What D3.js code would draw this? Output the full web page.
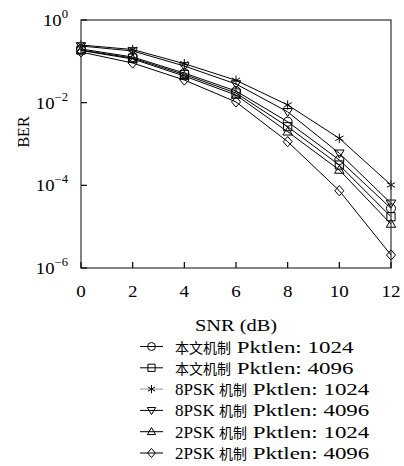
<!DOCTYPE html>
<html><head><meta charset="utf-8">
<script src="https://cdn.jsdelivr.net/npm/d3@7/dist/d3.min.js"></script>
<style>body{margin:0;background:#fff}svg{display:block}</style>
</head><body>
<svg id="c" width="404" height="466"></svg>
<script>
const snr = [0, 2, 4, 6, 8, 10, 12];
const berProp1024 = [0.199, 0.127, 0.052, 0.0191, 0.00346, 0.00041, 2.78e-5];
const berProp4096 = [0.188, 0.120, 0.048, 0.0171, 0.00262, 0.00031, 1.74e-5];
const ber8psk1024 = [0.248, 0.193, 0.0877, 0.0348, 0.0088, 0.00137, 1.02e-4];
const ber8psk4096 = [0.235, 0.178, 0.077, 0.0283, 0.0060, 0.000596, 3.67e-5];
const ber2psk1024 = [0.183, 0.114, 0.044, 0.0153, 0.00198, 0.000235, 1.16e-5];
const ber2psk4096 = [0.168, 0.091, 0.0353, 0.0104, 0.00114, 7.4e-5, 2.06e-6];
const xTicks = [0, 2, 4, 6, 8, 10, 12];
const yTickExps = [0, -2, -4, -6];
const seriesNames = [
  ["本文机制", " Pktlen: 1024"],
  ["本文机制", " Pktlen: 4096"],
  ["8PSK ", "机制", " Pktlen: 1024"],
  ["8PSK ", "机制", " Pktlen: 4096"],
  ["2PSK ", "机制", " Pktlen: 1024"],
  ["2PSK ", "机制", " Pktlen: 4096"]
];
const seriesData = [berProp1024, berProp4096, ber8psk1024, ber8psk4096, ber2psk1024, ber2psk4096];
const markers = ["circle", "square", "star", "tridown", "triup", "diamond"];

const svg = d3.select("#c");
const L = 81, R = 391, T = 20, B = 268;
const x = d3.scaleLinear().domain([0, 12]).range([L, R]);
const y = d3.scaleLog().domain([1e-6, 1]).range([B, T]);
const serif = "Liberation Serif, DejaVu Serif, serif";
const cjk = "Noto Sans CJK SC, sans-serif";

function markerPath(type, s) {
  const p = d3.path();
  if (type === "square") { p.rect(-s, -s, 2 * s, 2 * s); }
  else if (type === "triup") { p.moveTo(0, -s * 1.15); p.lineTo(s * 1.15, s * 0.8); p.lineTo(-s * 1.15, s * 0.8); p.closePath(); }
  else if (type === "tridown") { p.moveTo(0, s * 1.15); p.lineTo(s * 1.15, -s * 0.8); p.lineTo(-s * 1.15, -s * 0.8); p.closePath(); }
  else if (type === "diamond") { p.moveTo(0, -s * 1.25); p.lineTo(s * 1.1, 0); p.lineTo(0, s * 1.25); p.lineTo(-s * 1.1, 0); p.closePath(); }
  else if (type === "star") {
    const r = s * 1.15;
    p.moveTo(0, -r); p.lineTo(0, r);
    for (const a of [30, 150]) { const t = a * Math.PI / 180; p.moveTo(-r * Math.cos(t), -r * Math.sin(t)); p.lineTo(r * Math.cos(t), r * Math.sin(t)); }
  }
  return p.toString();
}
function drawMarker(g, type, cx, cy, s) {
  if (type === "circle") {
    g.append("circle").attr("cx", cx).attr("cy", cy).attr("r", s * 1.1)
      .attr("fill", "none").attr("stroke", "#000").attr("stroke-width", 1);
  } else {
    g.append("path").attr("d", markerPath(type, s)).attr("transform", `translate(${cx},${cy})`)
      .attr("fill", "none").attr("stroke", "#000").attr("stroke-width", 1);
  }
}

// series
const line = d3.line().x((d, i) => x(snr[i])).y(d => y(d));
seriesData.forEach((data, k) => {
  svg.append("path").attr("d", line(data)).attr("fill", "none")
    .attr("stroke", "#000").attr("stroke-width", 1);
  const g = svg.append("g");
  data.forEach((v, i) => drawMarker(g, markers[k], x(snr[i]), y(v), 4.1));
});

// frame
svg.append("rect").attr("x", L).attr("y", T).attr("width", R - L).attr("height", B - T)
  .attr("fill", "none").attr("stroke", "#333").attr("stroke-width", 1.2);

// x ticks
xTicks.forEach(t => {
  svg.append("line").attr("x1", x(t)).attr("x2", x(t)).attr("y1", B).attr("y2", B - 6)
    .attr("stroke", "#000").attr("stroke-width", 1.2);
  svg.append("text").attr("transform", `translate(${x(t)},297) scale(1.15,1)`).attr("text-anchor", "middle")
    .attr("font-family", serif).attr("font-size", 16.5).text(t);
});
// y ticks
yTickExps.forEach(e => {
  const yy = y(Math.pow(10, e));
  svg.append("line").attr("x1", L).attr("x2", L + 6).attr("y1", yy).attr("y2", yy)
    .attr("stroke", "#000").attr("stroke-width", 1.2);
  const t = svg.append("text").attr("transform", `translate(68,${yy + 6}) scale(1.1,1)`).attr("text-anchor", "end")
    .attr("font-family", serif).attr("font-size", 17);
  t.append("tspan").text("10");
  t.append("tspan").attr("dy", -8).attr("font-size", 11.5).text(e === 0 ? "0" : "−" + (-e));
});

// axis labels
svg.append("text").attr("transform", `translate(${(L + R) / 2},331) scale(1.2,1)`).attr("text-anchor", "middle")
  .attr("font-family", serif).attr("font-size", 17).text("SNR (dB)");
svg.append("text").attr("transform", "translate(29,132) rotate(-90)").attr("text-anchor", "middle")
  .attr("font-family", serif).attr("font-size", 16).text("BER");

// legend
const lg = svg.append("g");
seriesNames.forEach((parts, k) => {
  const cy = 346.5 + k * 21.3;
  lg.append("line").attr("x1", 140).attr("x2", 163).attr("y1", cy).attr("y2", cy)
    .attr("stroke", k === 2 ? "#777" : "#000").attr("stroke-width", k === 2 ? 0.8 : 1);
  drawMarker(lg, markers[k], 151.5, cy, 3.6);
  let cx = 175;
  parts.forEach(p => {
    const isCjk = /[\u4e00-\u9fff]/.test(p);
    const sx = isCjk ? 1 : (p.indexOf("Pktlen") >= 0 ? 1.35 : 1.0);
    const t = lg.append("text").attr("transform", `translate(${cx},${cy + 6}) scale(${sx},1)`)
      .attr("font-family", isCjk ? cjk : serif).attr("font-size", isCjk ? 14 : 17)
      .style("white-space", "pre").text(p);
    cx += t.node().getComputedTextLength() * sx;
  });
});
</script>
</body></html>
